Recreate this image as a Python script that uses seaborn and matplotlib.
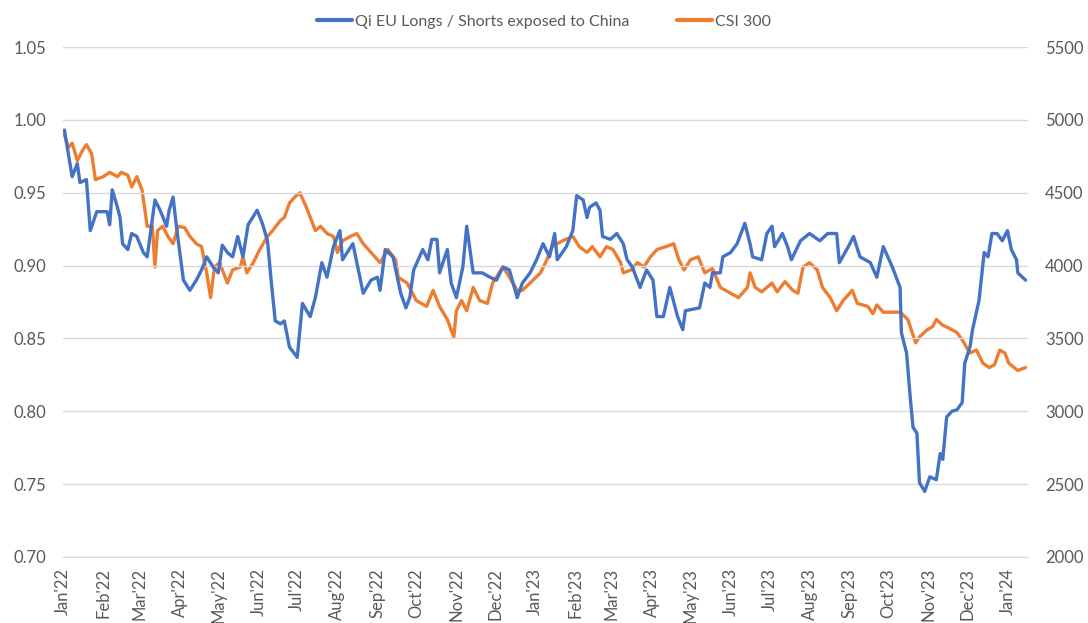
import pandas as pd
import numpy as np
import seaborn as sns
import matplotlib.pyplot as plt
import matplotlib.dates as mdates
from matplotlib.lines import Line2D

# values
qi_dates = [
    "2022-01-02", "2022-01-08", "2022-01-12", "2022-01-14", "2022-01-19", "2022-01-22", "2022-01-27",
    "2022-02-04", "2022-02-06", "2022-02-08", "2022-02-12", "2022-02-14", "2022-02-16", "2022-02-20",
    "2022-02-23", "2022-02-27", "2022-03-04", "2022-03-07", "2022-03-13", "2022-03-17", "2022-03-22",
    "2022-03-24", "2022-03-27", "2022-03-30", "2022-04-04", "2022-04-09", "2022-04-14", "2022-04-18",
    "2022-04-22", "2022-04-27", "2022-05-01", "2022-05-04", "2022-05-08", "2022-05-12", "2022-05-16",
    "2022-05-20", "2022-05-24", "2022-05-31", "2022-06-04", "2022-06-08", "2022-06-11", "2022-06-14",
    "2022-06-18", "2022-06-21", "2022-06-25", "2022-07-01", "2022-07-05", "2022-07-11", "2022-07-15",
    "2022-07-20", "2022-07-24", "2022-07-29", "2022-08-03", "2022-08-05", "2022-08-13", "2022-08-21",
    "2022-08-27", "2022-09-01", "2022-09-03", "2022-09-07", "2022-09-13", "2022-09-19", "2022-09-23",
    "2022-09-26", "2022-09-29", "2022-10-06", "2022-10-10", "2022-10-13", "2022-10-17", "2022-10-19",
    "2022-10-25", "2022-10-28", "2022-11-01", "2022-11-06", "2022-11-09", "2022-11-14", "2022-11-21",
    "2022-11-27", "2022-12-02", "2022-12-07", "2022-12-12", "2022-12-18", "2022-12-22", "2022-12-28",
    "2023-01-02", "2023-01-07", "2023-01-12", "2023-01-16", "2023-01-18", "2023-01-25", "2023-01-30",
    "2023-02-02", "2023-02-07", "2023-02-10", "2023-02-12", "2023-02-17", "2023-02-20", "2023-02-22",
    "2023-02-28", "2023-03-05", "2023-03-10", "2023-03-13", "2023-03-17", "2023-03-23", "2023-03-28",
    "2023-04-02", "2023-04-05", "2023-04-10", "2023-04-15", "2023-04-21", "2023-04-25", "2023-04-27",
    "2023-05-08", "2023-05-12", "2023-05-16", "2023-05-18", "2023-05-24", "2023-05-26", "2023-06-01",
    "2023-06-06", "2023-06-12", "2023-06-16", "2023-06-18", "2023-06-25", "2023-06-29", "2023-07-03",
    "2023-07-05", "2023-07-11", "2023-07-15", "2023-07-18", "2023-07-25", "2023-08-01", "2023-08-09",
    "2023-08-15", "2023-08-22", "2023-08-24", "2023-08-31", "2023-09-04", "2023-09-09", "2023-09-17",
    "2023-09-22", "2023-09-27", "2023-10-04", "2023-10-10", "2023-10-11", "2023-10-15", "2023-10-18",
    "2023-10-20", "2023-10-23", "2023-10-25", "2023-10-29", "2023-11-02", "2023-11-07", "2023-11-10",
    "2023-11-12", "2023-11-15", "2023-11-19", "2023-11-23", "2023-11-27", "2023-11-29", "2023-12-03",
    "2023-12-05", "2023-12-10", "2023-12-14", "2023-12-17", "2023-12-20", "2023-12-24", "2023-12-28",
    "2024-01-01", "2024-01-04", "2024-01-08", "2024-01-09", "2024-01-15",
]
qi_values = [
    0.993, 0.961, 0.970, 0.957, 0.959, 0.924, 0.937,
    0.937, 0.928, 0.952, 0.940, 0.933, 0.915, 0.911,
    0.922, 0.920, 0.909, 0.906, 0.945, 0.938, 0.927,
    0.938, 0.947, 0.924, 0.890, 0.883, 0.890, 0.897,
    0.906, 0.899, 0.895, 0.914, 0.909, 0.906, 0.920,
    0.906, 0.928, 0.938, 0.929, 0.917, 0.888, 0.862,
    0.860, 0.862, 0.844, 0.837, 0.874, 0.865, 0.878,
    0.902, 0.892, 0.913, 0.924, 0.904, 0.915, 0.881,
    0.890, 0.892, 0.883, 0.911, 0.906, 0.881, 0.871,
    0.878, 0.897, 0.911, 0.904, 0.918, 0.918, 0.895,
    0.911, 0.888, 0.878, 0.899, 0.927, 0.895, 0.895,
    0.892, 0.890, 0.899, 0.897, 0.878, 0.888, 0.895,
    0.904, 0.915, 0.906, 0.922, 0.904, 0.913, 0.924,
    0.948, 0.945, 0.933, 0.940, 0.943, 0.938, 0.920,
    0.918, 0.922, 0.915, 0.904, 0.899, 0.885, 0.897,
    0.890, 0.865, 0.865, 0.885, 0.865, 0.856, 0.869,
    0.871, 0.888, 0.885, 0.895, 0.895, 0.906, 0.909,
    0.915, 0.929, 0.915, 0.906, 0.904, 0.922, 0.927,
    0.913, 0.922, 0.913, 0.904, 0.917, 0.922, 0.917,
    0.922, 0.922, 0.902, 0.913, 0.920, 0.906, 0.902,
    0.892, 0.913, 0.899, 0.885, 0.854, 0.840, 0.808,
    0.789, 0.785, 0.751, 0.745, 0.755, 0.753, 0.771,
    0.767, 0.796, 0.800, 0.801, 0.806, 0.833, 0.844,
    0.856, 0.876, 0.909, 0.906, 0.922, 0.922, 0.917,
    0.924, 0.911, 0.904, 0.895, 0.890,
]

csi_dates = [
    "2022-01-02", "2022-01-05", "2022-01-08", "2022-01-12", "2022-01-16", "2022-01-19", "2022-01-23",
    "2022-01-26", "2022-02-01", "2022-02-06", "2022-02-12", "2022-02-15", "2022-02-20", "2022-02-23",
    "2022-02-27", "2022-03-03", "2022-03-07", "2022-03-11", "2022-03-13", "2022-03-15", "2022-03-19",
    "2022-03-23", "2022-03-27", "2022-03-31", "2022-04-05", "2022-04-09", "2022-04-14", "2022-04-18",
    "2022-04-22", "2022-04-25", "2022-04-28", "2022-05-02", "2022-05-08", "2022-05-12", "2022-05-18",
    "2022-05-20", "2022-05-23", "2022-05-28", "2022-06-02", "2022-06-08", "2022-06-12", "2022-06-18",
    "2022-06-21", "2022-06-25", "2022-06-29", "2022-07-03", "2022-07-08", "2022-07-12", "2022-07-15",
    "2022-07-19", "2022-07-24", "2022-07-29", "2022-08-01", "2022-08-05", "2022-08-11", "2022-08-16",
    "2022-08-21", "2022-08-27", "2022-09-03", "2022-09-09", "2022-09-15", "2022-09-17", "2022-09-24",
    "2022-10-01", "2022-10-09", "2022-10-14", "2022-10-19", "2022-10-25", "2022-10-30", "2022-11-01",
    "2022-11-05", "2022-11-09", "2022-11-14", "2022-11-19", "2022-11-25", "2022-11-29", "2022-12-07",
    "2022-12-12", "2022-12-18", "2022-12-22", "2022-12-28", "2023-01-05", "2023-01-10", "2023-01-14",
    "2023-01-22", "2023-01-30", "2023-02-04", "2023-02-10", "2023-02-14", "2023-02-20", "2023-02-25",
    "2023-03-02", "2023-03-08", "2023-03-10", "2023-03-16", "2023-03-21", "2023-03-26", "2023-03-31",
    "2023-04-05", "2023-04-12", "2023-04-18", "2023-04-22", "2023-04-26", "2023-05-01", "2023-05-07",
    "2023-05-12", "2023-05-18", "2023-05-24", "2023-06-01", "2023-06-07", "2023-06-14", "2023-06-16",
    "2023-06-20", "2023-06-25", "2023-07-03", "2023-07-07", "2023-07-13", "2023-07-19", "2023-07-23",
    "2023-07-27", "2023-08-01", "2023-08-07", "2023-08-11", "2023-08-17", "2023-08-22", "2023-08-27",
    "2023-09-03", "2023-09-07", "2023-09-15", "2023-09-19", "2023-09-22", "2023-09-27", "2023-10-10",
    "2023-10-16", "2023-10-22", "2023-10-25", "2023-10-31", "2023-11-04", "2023-11-07", "2023-11-12",
    "2023-11-17", "2023-11-23", "2023-11-27", "2023-12-03", "2023-12-08", "2023-12-13", "2023-12-18",
    "2023-12-22", "2023-12-26", "2023-12-30", "2024-01-02", "2024-01-09", "2024-01-15",
]
csi_values = [
    4900, 4810, 4840, 4720, 4790, 4830, 4770,
    4590, 4610, 4640, 4610, 4640, 4620, 4540,
    4610, 4520, 4270, 4270, 3990, 4240, 4270,
    4200, 4150, 4270, 4260, 4200, 4150, 4130,
    3950, 3780, 3990, 4020, 3880, 3970, 3990,
    4060, 3950, 4020, 4110, 4200, 4240, 4310,
    4330, 4430, 4470, 4500, 4400, 4310, 4240,
    4270, 4220, 4200, 4090, 4170, 4200, 4220,
    4150, 4090, 4020, 4110, 4040, 3920, 3880,
    3760, 3720, 3830, 3720, 3630, 3510, 3690,
    3760, 3690, 3850, 3760, 3740, 3880, 3990,
    3920, 3830, 3830, 3880, 3950, 4040, 4130,
    4170, 4200, 4130, 4090, 4130, 4060, 4130,
    4110, 4020, 3950, 3970, 4020, 3990, 4060,
    4110, 4130, 4150, 4040, 3970, 4040, 4060,
    3950, 3980, 3850, 3810, 3780, 3850, 3950,
    3850, 3820, 3880, 3820, 3890, 3830, 3810,
    3990, 4020, 3970, 3850, 3780, 3690, 3760,
    3830, 3740, 3720, 3670, 3730, 3680, 3680,
    3630, 3470, 3510, 3560, 3580, 3630, 3590,
    3570, 3540, 3490, 3400, 3420, 3330, 3300,
    3320, 3420, 3400, 3330, 3280, 3300,
]

qi_label = "Qi EU Longs / Shorts exposed to China"
csi_label = "CSI 300"
left_ticks = [0.70, 0.75, 0.80, 0.85, 0.90, 0.95, 1.00, 1.05]
right_ticks = [2000, 2500, 3000, 3500, 4000, 4500, 5000, 5500]

blue = "#4472C4"
orange = "#ED7D31"
text_col = "#595959"
grid_col = "#D9D9D9"

qi = pd.DataFrame({"date": pd.to_datetime(qi_dates), "value": qi_values})
csi = pd.DataFrame({"date": pd.to_datetime(csi_dates), "value": csi_values})

sns.set_style("white")
plt.rcParams["font.family"] = ["Lato", "DejaVu Sans"]

fig = plt.figure(figsize=(10.88, 6.23), dpi=100)
ax = fig.add_axes([0.058, 0.106, 0.887, 0.8185])
ax2 = ax.twinx()

# gridlines first so the lines sit on top
ax.set_ylim(0.70, 1.05)
ax.set_yticks(left_ticks)
ax.yaxis.grid(True, color=grid_col, linewidth=1)
ax.set_axisbelow(True)

sns.lineplot(data=qi, x="date", y="value", ax=ax, color=blue, linewidth=2.4, zorder=3)
sns.lineplot(data=csi, x="date", y="value", ax=ax2, color=orange, linewidth=2.4)

ax2.set_ylim(2000, 5500)
ax2.set_yticks(right_ticks)

# bring the blue series above the twin axis
ax.set_zorder(ax2.get_zorder() + 1)
ax.patch.set_visible(False)

ax.set_xlim(pd.Timestamp("2022-01-01"), pd.Timestamp("2024-01-17"))
ax.xaxis.set_major_locator(mdates.MonthLocator())
ax.xaxis.set_major_formatter(mdates.DateFormatter("%b'%y"))
ax.tick_params(axis="x", rotation=90, labelsize=12, colors=text_col, length=5,
               width=0.8, direction="out", pad=3)
ax.tick_params(axis="y", labelsize=12, colors=text_col, length=0, pad=12)
ax2.tick_params(axis="y", labelsize=12, colors=text_col, length=0, pad=12)
ax.yaxis.set_major_formatter(plt.FormatStrFormatter("%.2f"))

for a in (ax, ax2):
    a.set_xlabel("")
    a.set_ylabel("")
    for side in ("top", "left", "right"):
        a.spines[side].set_visible(False)
    a.spines["bottom"].set_color(grid_col)
ax.tick_params(axis="x", color="#BFBFBF")

handles = [Line2D([], [], color=blue, linewidth=3), Line2D([], [], color=orange, linewidth=3)]
fig.legend(handles, [qi_label, csi_label], loc="center", bbox_to_anchor=(0.5, 0.965),
           ncol=2, frameon=False, fontsize=11.5, handlelength=2.2, handletextpad=0.2,
           columnspacing=3, labelcolor=text_col)

plt.savefig("out.png", dpi=100)
